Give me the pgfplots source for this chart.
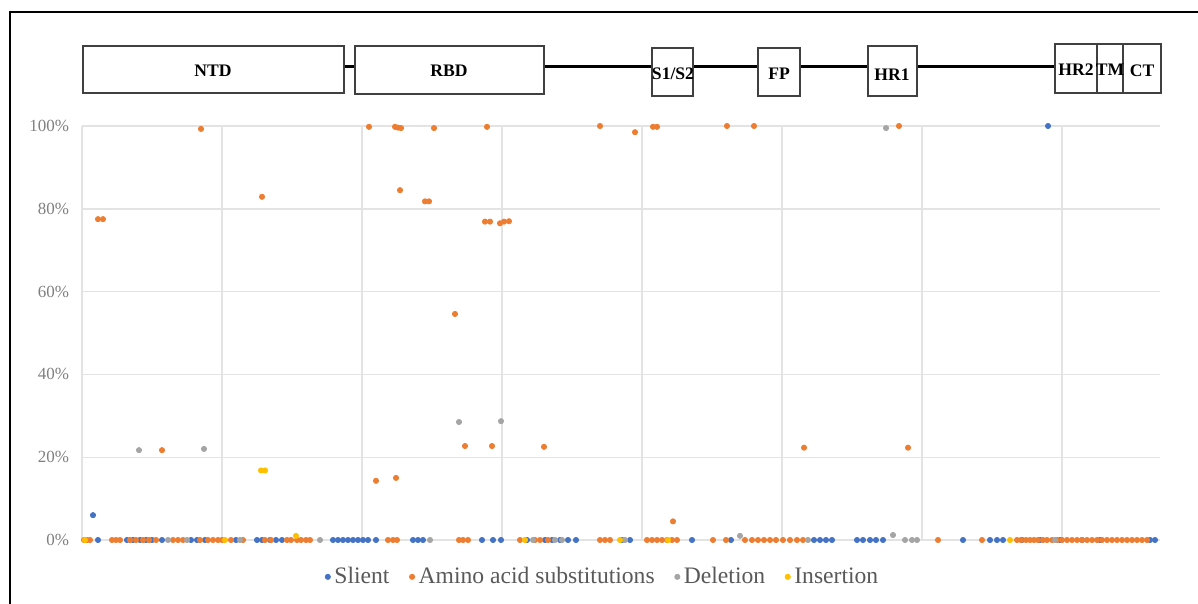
\documentclass[border=0pt]{standalone}
\usepackage{fontspec}
\setmainfont{Liberation Serif}
\usepackage{pgfplots}
\pgfplotsset{compat=1.18}
\definecolor{cSil}{HTML}{4472C4}
\definecolor{cAmi}{HTML}{ED7D31}
\definecolor{cDel}{HTML}{A5A5A5}
\definecolor{cIns}{HTML}{FFC000}
\definecolor{tickgray}{HTML}{7F7F7F}
\definecolor{leggray}{HTML}{595959}
\definecolor{gridgray}{HTML}{E3E3E3}
\definecolor{boxgray}{HTML}{404040}
\begin{document}
\begin{tikzpicture}
\useasboundingbox (0,0) rectangle (599pt,-302pt);
% frame
\draw[line width=1pt] (5pt,-302pt) -- (5pt,-6pt) -- (599pt,-6pt);
% domain diagram (pixel coordinates scaled 0.5pt)
\begin{scope}[x=0.5pt,y=-0.5pt]
\draw[line width=1.5pt] (344,67) -- (355,67);
\draw[line width=1.5pt] (544,67) -- (652,67);
\draw[line width=1.5pt] (693,67) -- (758,67);
\draw[line width=1.5pt] (800,67) -- (868,67);
\draw[line width=1.5pt] (917,67) -- (1055,67);
\tikzset{dom/.style={draw=boxgray,line width=0.6pt,fill=white},
         lab/.style={font=\fontsize{8.8}{10}\bfseries, text=black, inner sep=0pt}}
\draw[dom] (83,46) rectangle (344,93);
\draw[dom] (355,46) rectangle (544,94);
\draw[dom] (652,48) rectangle (693,96);
\draw[dom] (758,48) rectangle (800,96);
\draw[dom] (868,46) rectangle (917,96);
\draw[dom] (1055,44) rectangle (1097,93);
\draw[dom] (1097,44) rectangle (1123,93);
\draw[dom] (1123,44) rectangle (1161,93);
\node[lab] at (213,71) {NTD};
\node[lab] at (449,71) {RBD};
\node[lab] at (673,74) {S1/S2};
\node[lab] at (779,74) {FP};
\node[lab] at (892,75) {HR1};
\node[lab] at (1076,70) {HR2};
\node[lab] at (1110,70) {TM};
\node[lab] at (1142,71) {CT};
\end{scope}
\begin{axis}[
  at={(41pt,-270pt)}, anchor=south west,
  scale only axis, width=539pt, height=207pt,
  xmin=0, xmax=1078, ymin=0, ymax=100,
  clip=false,
  axis line style={draw=none},
  major tick length=0pt,
  xtick={0,140,...,980}, xticklabels={},
  ytick={0,20,40,60,80,100},
  yticklabels={0\%,20\%,40\%,60\%,80\%,100\%},
  yticklabel style={font=\fontsize{8.5}{10}\selectfont, text=tickgray, xshift=-3pt},
  grid=major,
  major grid style={gridgray, line width=0.7pt},
  every axis plot/.append style={only marks, mark=*, mark size=1.3pt},
  legend image code/.code={\draw[#1] plot coordinates {(0pt,0pt)};},
  legend style={at={(0.484,-0.089)}, anchor=center, draw=none, fill=none,
    font=\fontsize{11.8}{14}\selectfont, text=leggray,
    legend columns=4, inner sep=0pt,
    /tikz/every even column/.append style={column sep=8pt}},
]
\addplot[cSil, mark options={draw=cSil, fill=cSil}] coordinates {
(16,0)(45,0)(51,0)(58,0)(64,0)(70,0)(80,0)(109,0)(115,0)(123,0)(154,0)(175,0)(180,0)(188,0)(194,0)(200,0)
(251,0)(256,0)(261,0)(266,0)(271,0)(276,0)(281,0)(286,0)(294,0)(331,0)(336,0)(341,0)(400,0)(411,0)(419,0)
(445,0)(463,0)(470,0)(478,0)(486,0)(494,0)(540,0)(548,0)(610,0)(649,0)(732,0)(738,0)(744,0)(750,0)
(775,0)(781,0)(788,0)(794,0)(801,0)(881,0)(908,0)(915,0)(921,0)(940,0)(958,0)(978,0)(1000,0)(1018,0)
(1068,0)(1073,0)
(11,6)(966,100)
};
\addlegendentry{Slient}
\addplot[cAmi, mark options={draw=cAmi, fill=cAmi}] coordinates {
(2,0)(5,0)(8,0)(30,0)(34,0)(38,0)(48,0)(54,0)(61,0)(67,0)(74,0)(91,0)(96,0)(101,0)(118,0)(126,0)(131,0)
(136,0)(140,0)(149,0)(161,0)(183,0)(189,0)(205,0)(209,0)(215,0)(219,0)(224,0)(228,0)(306,0)(311,0)(315,0)
(377,0)(381,0)(386,0)(438,0)(453,0)(458,0)(466,0)(518,0)(523,0)(528,0)(565,0)(570,0)(575,0)(580,0)(585,0)
(590,0)(595,0)(631,0)(644,0)(663,0)(670,0)(676,0)(682,0)(688,0)(694,0)(701,0)(708,0)(715,0)(721,0)
(856,0)(900,0)(935,0)(939,0)(944,0)(948,0)(952,0)(956,0)(961,0)(965,0)(970,0)(975,0)(980,0)(985,0)
(990,0)(995,0)(1000,0)(1005,0)(1010,0)(1015,0)(1020,0)(1025,0)(1030,0)(1035,0)(1040,0)(1045,0)(1050,0)
(1055,0)(1060,0)(1065,0)
(16,77.5)(21,77.5)(119,99.3)(180,82.9)(80,21.7)(294,14.3)(314,15)(287,99.8)(313,99.8)(316,99.6)(319,99.5)
(318,84.5)(343,81.8)(347,81.8)(352,99.5)(405,99.8)(403,76.9)(408,76.9)(418,76.5)(422,76.9)(427,77)
(373,54.6)(383,22.7)(410,22.7)(462,22.5)(518,100)(553,98.5)(571,99.8)(575,99.8)(645,100)(672,100)
(722,22.3)(826,22.3)(817,100)(591,4.5)
};
\addlegendentry{Amino acid substitutions}
\addplot[cDel, mark options={draw=cDel, fill=cDel}] coordinates {
(86,0)(105,0)(158,0)(238,0)(348,0)(451,0)(473,0)(480,0)(543,0)(658,1)(726,0)(811,1.2)(823,0)(830,0)(835,0)(973,0)
(57,21.7)(122,22)(377,28.5)(419,28.7)(804,99.5)
};
\addlegendentry{Deletion}
\addplot[cIns, mark options={draw=cIns, fill=cIns}] coordinates {
(3,0)(143,0)(214,1)(443,0)(538,0)(586,0)(928,0)
(179,16.8)(183,16.8)
};
\addlegendentry{Insertion}
\end{axis}
\end{tikzpicture}
\end{document}
